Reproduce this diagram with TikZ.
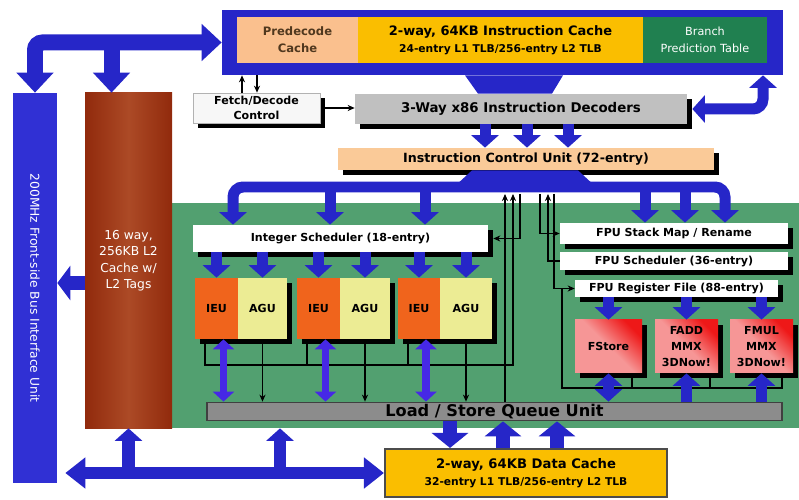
\documentclass[tikz,border=0pt]{standalone}
\usepackage{fontspec}
\setmainfont{DejaVu Sans}
\usetikzlibrary{arrows.meta,shadows}

\definecolor{busblue}{RGB}{38,38,200}
\definecolor{fsbblue}{RGB}{48,48,212}
\definecolor{prepeach}{RGB}{250,192,142}
\definecolor{icgold}{RGB}{250,190,0}
\definecolor{bptgreen}{RGB}{32,128,80}
\definecolor{decgray}{RGB}{192,192,192}
\definecolor{icupeach}{RGB}{250,202,152}
\definecolor{coregreen}{RGB}{82,160,112}
\definecolor{l2dark}{RGB}{145,42,12}
\definecolor{l2light}{RGB}{172,74,38}
\definecolor{ieuorange}{RGB}{240,100,28}
\definecolor{aguyellow}{RGB}{236,236,148}
\definecolor{fpupink}{RGB}{246,150,150}
\definecolor{fpured}{RGB}{238,24,24}
\definecolor{lsqgray}{RGB}{140,140,140}
\definecolor{ieublue}{RGB}{70,40,230}
\definecolor{predtext}{RGB}{80,56,30}

\tikzset{
  box/.style={inner sep=0pt, align=center},
  sz/.style 2 args={minimum width={#1*0.02cm}, minimum height={#2*0.02cm}},
  shad/.style={drop shadow={shadow xshift=0.1cm, shadow yshift=-0.1cm, fill=black, opacity=1}},
  fpu/.style={box, shad, top color=fpured, bottom color=fpupink, middle color=fpupink, shading angle=-45},
  bus/.style={draw=busblue, line width=0.32cm},
  bus2/.style={draw=busblue, line width=0.26cm},
  bus3/.style={draw=busblue, line width=0.22cm},
  bus4/.style={draw=ieublue, line width=0.16cm},
  wire/.style={draw=black, line width=0.6pt},
  fatA/.tip={Triangle[length=0.4cm, width=0.72cm]},
  fatB/.tip={Triangle[length=0.4cm, width=0.6cm]},
  fatC/.tip={Triangle[length=0.25cm, width=0.54cm]},
  fatD/.tip={Triangle[length=0.2cm, width=0.42cm]},
  fatF/.tip={Triangle[length=0.3cm, width=0.72cm]},
  fatG/.tip={Triangle[length=0.26cm, width=0.68cm]},
  wtip/.tip={Stealth[length=4pt, width=3.5pt]},
  f7/.style={font=\fontsize{7.6}{9.6}\selectfont\bfseries},
  f6/.style={font=\fontsize{6.3}{8.6}\selectfont\bfseries},
}

\begin{document}
\begin{tikzpicture}[x=0.02cm, y=-0.02cm]
\useasboundingbox (0,0) rectangle (799,500);

% execution core
\node[box, fill=coregreen, sz={627}{225}] (core) at (485.5,315.5) {};

% bus interface unit and L2
\node[box, fill=fsbblue, sz={44}{390},
  label={[rotate=-90, text=white, font=\fontsize{7}{8}\selectfont]center:200MHz Front-side Bus Interface Unit}] (fsb) at (35,288) {};
\node[box, left color=l2dark, right color=l2dark, middle color=l2light, sz={87}{335},
  text=white, font=\fontsize{7}{9.4}\selectfont] (l2) at (128.5,260.5) {16 way,\\256KB L2\\Cache w/\\L2 Tags};

% fetch and decode
\node[box, fill=busblue, sz={561}{65}] (icframe) at (502.5,42.5) {};
\node[box, fill=prepeach, text=predtext, font=\fontsize{6.6}{9.6}\selectfont\bfseries, sz={121}{46}] (pre) at (297.5,40) {Predecode\\Cache};
\node[box, fill=icgold, font=\fontsize{7}{9.6}\selectfont\bfseries, sz={285}{46}] (icache) at (500.5,40)
  {{\fontsize{7.4}{9.6}\selectfont 2-way, 64KB Instruction Cache}\\{\fontsize{6.1}{9.6}\selectfont 24-entry L1 TLB/256-entry L2 TLB}};
\node[box, fill=bptgreen, text=white, font=\fontsize{6.4}{9.6}\selectfont, sz={124}{46}] (bpt) at (705,40) {Branch\\Prediction Table};
\node[box, shad, fill=gray!6, draw=gray!60, f6, sz={127}{30}] (fetch) at (256.5,108) {Fetch/Decode\\Control};
\node[box, shad, fill=decgray, f7, sz={332}{30}] (dec) at (521,109) {3-Way x86 Instruction Decoders};
\node[box, shad, fill=icupeach, font=\fontsize{7.2}{8}\selectfont\bfseries, sz={376}{22}] (icu) at (526,159) {Instruction Control Unit (72-entry)};

% integer units
\node[box, shad, fill=white, f6, sz={295}{27}] (isched) at (340.5,238.5) {Integer Scheduler (18-entry)};
\node[box, shad, fill=ieuorange, f6, sz={43}{61}] (ieu1) at (216.5,308.5) {IEU};
\node[box, shad, fill=aguyellow, f6, sz={49}{61}] (agu1) at (262.5,308.5) {AGU};
\node[box, shad, fill=ieuorange, f6, sz={43}{61}] (ieu2) at (318.5,308.5) {IEU};
\node[box, shad, fill=aguyellow, f6, sz={50}{61}] (agu2) at (365,308.5) {AGU};
\node[box, shad, fill=ieuorange, f6, sz={42}{61}] (ieu3) at (419,308.5) {IEU};
\node[box, shad, fill=aguyellow, f6, sz={52}{61}] (agu3) at (466,308.5) {AGU};

% floating point units
\node[box, shad, fill=white, f6, sz={228}{21}] (fmap) at (674,233.5) {FPU Stack Map / Rename};
\node[box, shad, fill=white, f6, sz={228}{18}] (fsched) at (674,261) {FPU Scheduler (36-entry)};
\node[box, shad, fill=white, f6, sz={203}{17}] (freg) at (676.5,288.5) {FPU Register File (88-entry)};
\node[fpu, f6, sz={67}{53}] (fstore) at (608.5,346.5) {FStore};
\node[fpu, font=\fontsize{6.3}{9}\selectfont\bfseries, sz={63}{53}] (fadd) at (686.5,346.5) {FADD\\MMX\\3DNow!};
\node[fpu, font=\fontsize{6.3}{9}\selectfont\bfseries, sz={63}{53}] (fmul) at (761.5,346.5) {FMUL\\MMX\\3DNow!};

% load/store and data cache
\node[box, fill=lsqgray, draw=black!75, line width=1pt, font=\fontsize{9.2}{10}\selectfont\bfseries,
  sz={575}{18}] (lsq) at (494.5,411.5) {Load / Store Queue Unit};
\node[box, fill=icgold, draw=black!70, line width=1.2pt, font=\fontsize{7}{9.4}\selectfont\bfseries,
  sz={282}{48}] (dcache) at (526,473)
  {{\fontsize{7.5}{9.4}\selectfont 2-way, 64KB Data Cache}\\{\fontsize{6.1}{9.4}\selectfont 32-entry L1 TLB/256-entry L2 TLB}};

\coordinate (icubus) at (0,187);
\coordinate (wtop) at (0,194);
\coordinate (ibot) at (513,365);
\coordinate (fbot) at (782,388);
\coordinate (l2tap) at ([xshift=-0.34cm]l2.north);

% control wires
\draw[wire, -wtip] (lsq.north -| 505,0) -- (wtop -| 505,0);
\draw[wire, -wtip] (ieu1.south -| 205,0) |- (ibot) -- (wtop -| ibot);
\draw[wire] (ieu2.south -| 307,0) -- (ibot -| 307,0);
\draw[wire] (ieu3.south -| 408,0) -- (ibot -| 408,0);
\draw[wire, -wtip, shorten >=0.1cm] (wtop -| 520,0) |- (isched.east);
\draw[wire, -wtip] (wtop -| 540,0) |- (fmap.west);
\draw[wire, wtip-] (wtop -| 548,0) |- (fsched.west);
\draw[wire, -wtip] (wtop -| 554,0) |- (freg.west);
\draw[wire] (freg.west -| 562,0) |- (fbot) -- (fmul.south -| fbot);
\draw[wire] (fstore.south -| 632,0) -- (fbot -| 632,0);
\draw[wire] (fadd.south -| 710,0) -- (fbot -| 710,0);
\foreach \u in {agu1,agu2,agu3}
  \draw[wire, -wtip] (\u.south) -- (lsq.north -| \u.south);
\draw[wire, line width=1pt, -wtip] ([xshift=0.1cm]fetch.east) -- (dec.west |- fetch.east);
\draw[wire, line width=0.9pt, -wtip] (fetch.north -| 242,0) -- (icframe.south -| 242,0);
\draw[wire, line width=0.9pt, -wtip] (icframe.south -| 257,0) -- (fetch.north -| 257,0);

% system buses
\draw[bus, fatA-fatA, rounded corners=0.15cm] (fsb.north) |- (icframe.west);
\draw[bus, -fatA] (l2tap |- icframe.west) -- (l2tap);
\draw[line width=0.3cm, busblue, -fatG] (l2.west |- 0,283) -- (fsb.east |- 0,283);
\draw[bus2, fatB-fatB, shorten <=0.16cm] (fsb.east |- dcache.west) -- (dcache.west);
\draw[bus2, -fatC] (l2.south |- dcache.west) -- (l2.south);
\draw[bus2, -fatC] (dcache.west -| 280,0) -- (core.south -| 280,0);

% instruction path
\fill[busblue] (icframe.south -| 465,0) -- (icframe.south -| 563,0) -- (dec.north -| 552,0) -- (dec.north -| 478,0) -- cycle;
\draw[bus3, fatC-fatC, rounded corners=0.2cm] (icframe.south -| 763,0) |- ([xshift=0.1cm]dec.east);
\foreach \x in {485,527,568}
  \draw[bus3, -fatC] (dec.south -| \x,0) -- (icu.north -| \x,0);
\fill[busblue] (icu.south -| 472,0) -- (icu.south -| 578,0) -- (icubus -| 596,0) -- (icubus -| 454,0) -- cycle;
\draw[bus3, fatC-fatC, rounded corners=0.2cm] (isched.north -| 233,0) |- (icubus -| 700,0) -| (fmap.north -| 725,0);
\foreach \x in {330,425}
  \draw[bus3, -fatC] (icubus -| \x,0) -- (isched.north -| \x,0);
\foreach \x in {645,685}
  \draw[bus3, -fatC] (icubus -| \x,0) -- (fmap.north -| \x,0);

% execution paths
\foreach \u in {ieu1,agu1,ieu2,agu2,ieu3,agu3}
  \draw[bus3, -fatC] (isched.south -| \u) -- (\u.north);
\foreach \u in {ieu1,ieu2,ieu3} {
  \coordinate (p\u) at ([xshift=0.14cm]\u.south);
  \draw[bus4, fatD-fatD] (p\u) -- (lsq.north -| p\u);
}
\foreach \u in {fstore,fadd,fmul}
  \draw[bus3, -fatC] (freg.south -| \u.north) -- (\u.north);
\draw[bus3, fatC-fatC] (fstore.south) -- (lsq.north -| fstore.south);
\draw[bus3, -fatC] (lsq.north -| fadd.south) -- (fadd.south);
\draw[bus3, -fatC] (lsq.north -| fmul.south) -- (fmul.south);

% data cache ports
\draw[line width=0.28cm, busblue, -fatF] (lsq.south -| 450,0) -- (dcache.north -| 450,0);
\draw[line width=0.28cm, busblue, -fatF] (dcache.north -| 503,0) -- (lsq.south -| 503,0);
\draw[line width=0.28cm, busblue, -fatF] (dcache.north -| 557,0) -- (lsq.south -| 557,0);
\end{tikzpicture}
\end{document}
